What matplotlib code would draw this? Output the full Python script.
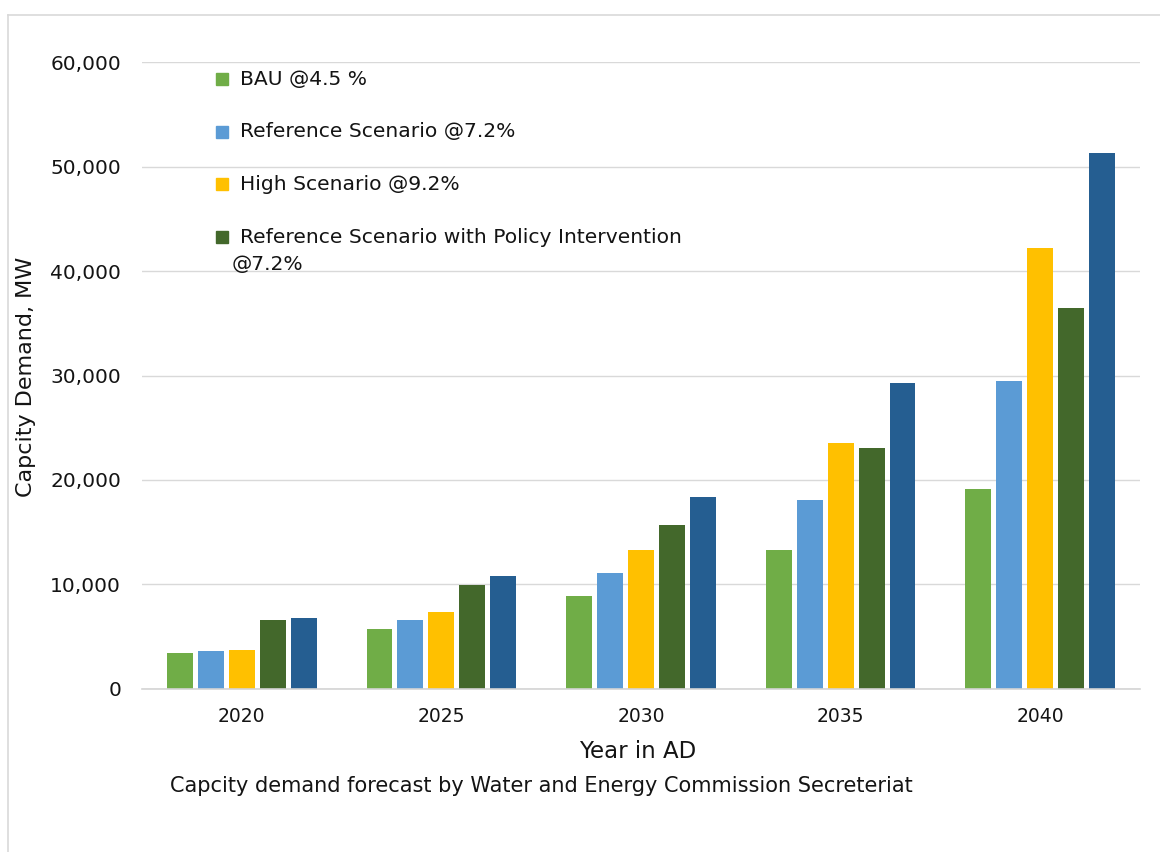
import matplotlib
matplotlib.use("Agg")
import matplotlib.pyplot as plt
from matplotlib.lines import Line2D
from matplotlib.patches import Rectangle
import numpy as np

plt.rcParams["font.family"] = ["DejaVu Sans"]

# Forecast capacity demand (MW) by scenario
years = ["2020", "2025", "2030", "2035", "2040"]
bau = [3400, 5750, 8900, 13250, 19150]
reference = [3600, 6600, 11050, 18100, 29450]
high = [3750, 7350, 13250, 23550, 42250]
policy = [6600, 9950, 15700, 23050, 36450]
extra = [6800, 10750, 18350, 29250, 51350]

series = [bau, reference, high, policy, extra]
colors = ["#70ad47", "#5b9bd5", "#ffc000", "#43682b", "#255e91"]
legend_labels = [
    "BAU @4.5 %",
    "Reference Scenario @7.2%",
    "High Scenario @9.2%",
    "Reference Scenario with Policy Intervention\n@7.2%",
]
yticks = [0, 10000, 20000, 30000, 40000, 50000, 60000]

TEXT = "#141414"
W, H = 1160, 852
fig = plt.figure(figsize=(W / 100, H / 100), dpi=100)
ax_l, ax_r, ax_t, ax_b = 142, 1140, 62.3, 688.7
ax = fig.add_axes([ax_l / W, 1 - ax_b / H, (ax_r - ax_l) / W, (ax_b - ax_t) / H])

x = np.arange(len(years))
step, width = 0.155, 0.13
for k, (vals, col) in enumerate(zip(series, colors)):
    ax.bar(x + (k - 2) * step, vals, width=width, color=col, zorder=3)

ax.set_xlim(-0.5, len(years) - 0.5)
ax.set_ylim(0, 60000)
ax.set_yticks(yticks)
ax.set_yticklabels([f"{v:,}" for v in yticks])
ax.set_xticks(x)
ax.set_xticklabels(years)
ax.tick_params(axis="y", length=0, pad=15, labelsize=14.5, colors=TEXT)
ax.tick_params(axis="x", length=0, pad=13, labelsize=13.5, colors=TEXT)
ax.grid(axis="y", color="#d9d9d9", linewidth=1.0, zorder=0)
ax.axhline(0, color="#d4d4d4", linewidth=1.2, zorder=4, clip_on=False)
for s in ax.spines.values():
    s.set_visible(False)

# Legend drawn as squares with text, first four scenarios
px_w = ax_r - ax_l
px_h = ax_b - ax_t
def ax_xy(px, py):
    return (px - ax_l) / px_w, (ax_b - py) / px_h

row0, row_gap = 79, 52.7
sq = 12
for i, (lab, col) in enumerate(zip(legend_labels, colors)):
    cy = row0 + i * row_gap
    x0, y0 = ax_xy(216, cy + sq / 2)
    ax.add_patch(Rectangle((x0, y0), sq / px_w, sq / px_h, transform=ax.transAxes,
                           color=col, zorder=5, clip_on=False))
    lines = lab.split("\n")
    tx, ty = ax_xy(240, cy)
    ax.text(tx, ty, lines[0], transform=ax.transAxes, fontsize=14.6,
            va="center", ha="left", color=TEXT, zorder=5)
    for j, extra_line in enumerate(lines[1:], start=1):
        tx2, ty2 = ax_xy(232, cy + j * 27)
        ax.text(tx2, ty2, extra_line, transform=ax.transAxes, fontsize=14.6,
                va="center", ha="left", color=TEXT, zorder=5)

fig.text(26 / W, 1 - 377 / H, "Capcity Demand, MW", rotation=90, fontsize=16,
         ha="center", va="center", color=TEXT)
fig.text(638 / W, 1 - 752 / H, "Year in AD", fontsize=16.5,
         ha="center", va="center", color=TEXT)
fig.text(541 / W, 1 - 786 / H,
         "Capcity demand forecast by Water and Energy Commission Secreteriat",
         fontsize=15, ha="center", va="center", color=TEXT)

# Outer frame lines
fig.add_artist(Line2D([8 / W, 1], [1 - 14.5 / H, 1 - 14.5 / H], color="#d9d9d9",
                      linewidth=1.2, transform=fig.transFigure))
fig.add_artist(Line2D([8 / W, 8 / W], [0, 1 - 14.5 / H], color="#d9d9d9",
                      linewidth=1.2, transform=fig.transFigure))

fig.savefig("out.png", dpi=100)
